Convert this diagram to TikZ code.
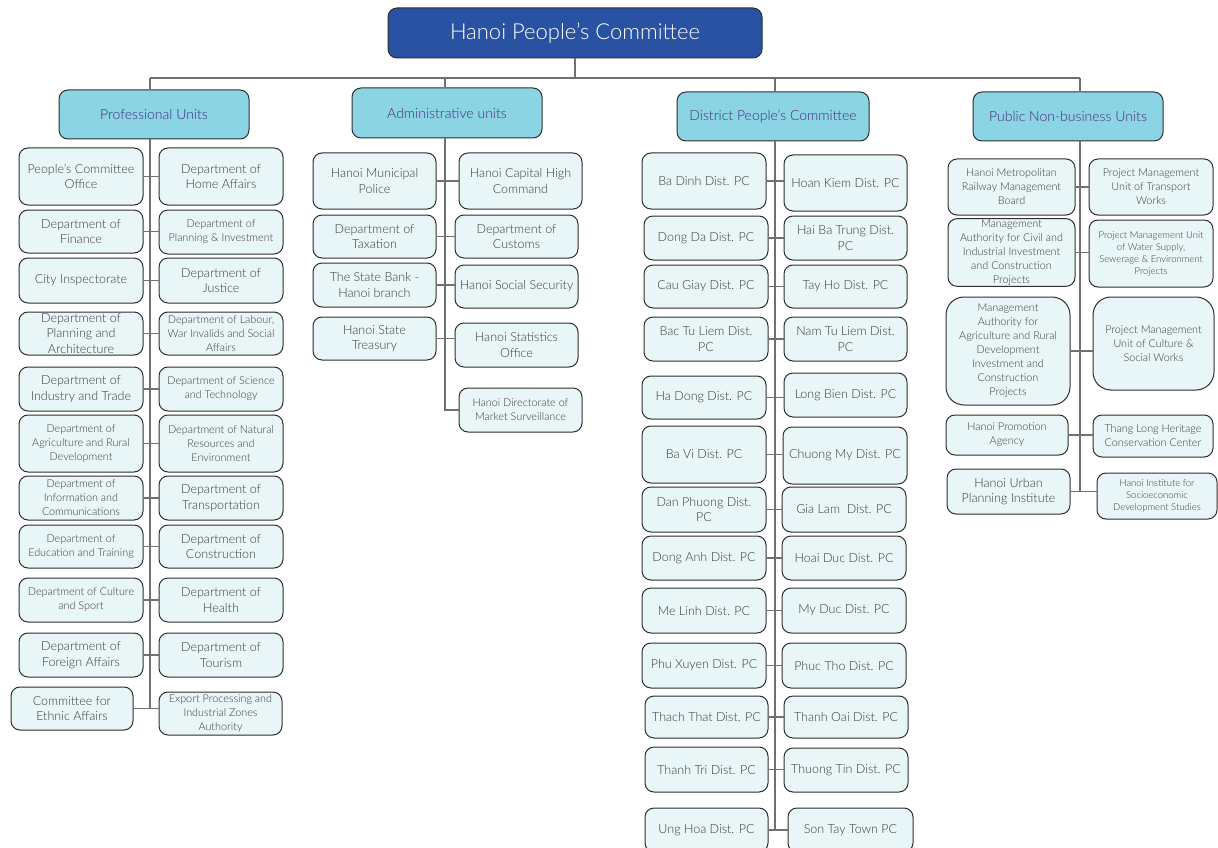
\documentclass[tikz,border=0pt]{standalone}
\usepackage{fontspec}
\setmainfont{Lato}[UprightFont=* Light]

\definecolor{boxfill}{HTML}{E8F6F8}
\definecolor{boxline}{HTML}{2E2E2E}
\definecolor{unittext}{HTML}{3A3A3A}
\definecolor{headfill}{HTML}{8AD4E4}
\definecolor{headtext}{HTML}{4B2A7B}
\definecolor{chairfill}{HTML}{2A52A2}
\definecolor{linkgray}{HTML}{707070}

\tikzset{
  unit/.style={draw=boxline, fill=boxfill, rounded corners=9pt, line width=1pt,
    text=unittext, align=center, inner sep=1pt, font=\fontsize{12.5}{15.5}\selectfont},
  small/.style={font=\fontsize{10.8}{14}\selectfont},
  tiny/.style={font=\fontsize{9.5}{12}\selectfont},
  head/.style={fill=headfill, text=headtext, font=\fontsize{14}{16}\selectfont},
  chair/.style={fill=chairfill, text=white, font=\fontsize{22}{26}\selectfont},
  link/.style={draw=linkgray, line width=1.6pt},
}

% box from its corners: name, x1, y1, x2, y2, text
\newcommand{\orgbox}[7][]{%
  \node[unit, #1, minimum width={#5-#3}, minimum height={#6-#4}]
    (#2) at ({(#3+#5)/2},{(#4+#6)/2}) {#7};}

\begin{document}
\begin{tikzpicture}[x=1pt, y=-1pt]
\useasboundingbox (0,0) rectangle (1218,848);

% spines of the four columns
\coordinate (bus) at (0,78);
\coordinate (psp) at (150,0);
\coordinate (asp) at (445,0);
\coordinate (dsp) at (775,0);
\coordinate (nsp) at (1080,0);

\orgbox[chair]{hpc}{388}{8}{762}{58}{Hanoi People's Committee}

\orgbox[head]{phead}{59}{90}{249}{139}{Professional Units}
\orgbox[head]{ahead}{352}{88}{542}{138}{Administrative units}
\orgbox[head]{dhead}{677}{92}{869}{141}{District People's Committee}
\orgbox[head]{nhead}{973}{92}{1163}{141}{Public Non-business Units}

% professional units
\orgbox{pl1}{19}{148}{143}{205}{People's Committee\\Office}
\orgbox{pr1}{159}{148}{283}{205}{Department of\\Home Affairs}
\orgbox{pl2}{19}{210}{143}{253}{Department of\\Finance}
\orgbox[small]{pr2}{159}{210}{283}{254}{Department of\\Planning \& Investment}
\orgbox{pl3}{19}{258}{143}{303}{City Inspectorate}
\orgbox{pr3}{159}{258}{283}{303}{Department of\\Justice}
\orgbox{pl4}{19}{312}{143}{355}{Department of\\Planning and\\Architecture}
\orgbox[small]{pr4}{159}{312}{283}{355}{Department of Labour,\\War Invalids and Social\\Affairs}
\orgbox{pl5}{19}{367}{143}{411}{Department of\\Industry and Trade}
\orgbox[small]{pr5}{159}{367}{283}{411}{Department of Science\\and Technology}
\orgbox[small]{pl6}{19}{415}{143}{472}{Department of\\Agriculture and Rural\\Development}
\orgbox[small]{pr6}{159}{415}{283}{472}{Department of Natural\\Resources and\\Environment}
\orgbox[small]{pl7}{19}{476}{143}{520}{Department of\\Information and\\Communications}
\orgbox{pr7}{159}{476}{283}{520}{Department of\\Transportation}
\orgbox[small]{pl8}{19}{525}{143}{568}{Department of\\Education and Training}
\orgbox{pr8}{159}{525}{283}{568}{Department of\\Construction}
\orgbox[small]{pl9}{19}{578}{143}{622}{Department of Culture\\and Sport}
\orgbox{pr9}{159}{578}{283}{622}{Department of\\Health}
\orgbox{pl10}{19}{633}{143}{677}{Department of\\Foreign Affairs}
\orgbox{pr10}{159}{633}{283}{677}{Department of\\Tourism}
\orgbox{pl11}{11}{687}{133}{730}{Committee for\\Ethnic Affairs}
\orgbox[small]{pr11}{159}{692}{282}{735}{Export Processing and\\Industrial Zones\\Authority}

% administrative units
\orgbox{al1}{313}{153}{436}{209}{Hanoi Municipal\\Police}
\orgbox{ar1}{459}{153}{582}{209}{Hanoi Capital High\\Command}
\orgbox{al2}{313}{215}{436}{258}{Department of\\Taxation}
\orgbox{ar2}{455}{215}{578}{258}{Department of\\Customs}
\orgbox{al3}{313}{263}{436}{307}{The State Bank -\\Hanoi branch}
\orgbox{ar3}{455}{265}{578}{308}{Hanoi Social Security}
\orgbox{al4}{313}{317}{436}{360}{Hanoi State\\Treasury}
\orgbox{ar4}{455}{323}{578}{367}{Hanoi Statistics\\Office}
\orgbox[small]{ar5}{459}{388}{582}{432}{Hanoi Directorate of\\Market Surveillance}

% district people's committees
\orgbox{dl1}{642}{153}{766}{209}{Ba Dinh Dist. PC}
\orgbox{dr1}{784}{155}{907}{211}{Hoan Kiem Dist. PC}
\orgbox{dl2}{644}{216}{768}{260}{Dong Da Dist. PC}
\orgbox{dr2}{784}{216}{907}{260}{Hai Ba Trung Dist.\\PC}
\orgbox{dl3}{644}{265}{768}{308}{Cau Giay Dist. PC}
\orgbox{dr3}{784}{265}{907}{308}{Tay Ho Dist. PC}
\orgbox{dl4}{644}{317}{768}{361}{Bac Tu Liem Dist.\\PC}
\orgbox{dr4}{784}{317}{907}{361}{Nam Tu Liem Dist.\\PC}
\orgbox{dl5}{642}{376}{766}{419}{Ha Dong Dist. PC}
\orgbox{dr5}{784}{373}{907}{417}{Long Bien Dist. PC}
\orgbox{dl6}{642}{426}{766}{483}{Ba Vi Dist. PC}
\orgbox{dr6}{783}{427}{907}{484}{Chuong My Dist. PC}
\orgbox{dl7}{642}{487}{766}{532}{Dan Phuong Dist.\\PC}
\orgbox{dr7}{782}{487}{906}{532}{Gia Lam~ Dist. PC}
\orgbox{dl8}{642}{536}{766}{580}{Dong Anh Dist. PC}
\orgbox{dr8}{782}{536}{906}{580}{Hoai Duc Dist. PC}
\orgbox{dl9}{642}{588}{766}{633}{Me Linh Dist. PC}
\orgbox{dr9}{782}{588}{906}{633}{My Duc Dist. PC}
\orgbox{dl10}{642}{643}{766}{688}{Phu Xuyen Dist. PC}
\orgbox{dr10}{782}{643}{906}{688}{Phuc Tho Dist. PC}
\orgbox{dl11}{645}{696}{768}{738}{Thach That Dist. PC}
\orgbox{dr11}{784}{696}{908}{738}{Thanh Oai Dist. PC}
\orgbox{dl12}{645}{747}{768}{792}{Thanh Tri Dist. PC}
\orgbox{dr12}{784}{748}{908}{792}{Thuong Tin Dist. PC}
\orgbox{dl13}{645}{808}{768}{852}{Ung Hoa Dist. PC}
\orgbox{dr13}{788}{808}{913}{852}{Son Tay Town PC}

% public non-business units
\orgbox[small]{nl1}{948}{159}{1075}{215}{Hanoi Metropolitan\\Railway Management\\Board}
\orgbox[small]{nr1}{1089}{159}{1213}{215}{Project Management\\Unit of Transport\\Works}
\orgbox[small]{nl2}{948}{220}{1075}{285}{Management\\Authority for Civil and\\Industrial Investment\\and Construction\\Projects}
\orgbox[tiny]{nr2}{1089}{220}{1213}{287}{Project Management Unit\\of Water Supply,\\Sewerage \& Environment\\Projects}
\orgbox[small, rounded corners=18pt]{nl3}{946}{297}{1070}{405}{Management\\Authority for\\Agriculture and Rural\\Development\\Investment and\\Construction\\Projects}
\orgbox[small, rounded corners=18pt]{nr3}{1093}{297}{1214}{390}{Project Management\\Unit of Culture \&\\Social Works}
\orgbox[small]{nl4}{946}{415}{1068}{455}{Hanoi Promotion\\Agency}
\orgbox[small]{nr4}{1093}{415}{1213}{457}{Thang Long Heritage\\Conservation Center}
\orgbox{nl5}{947}{469}{1070}{514}{Hanoi Urban\\Planning Institute}
\orgbox[tiny]{nr5}{1097}{473}{1217}{519}{Hanoi Institute for\\Socioeconomic\\Development Studies}

% top bus and drops to the headers
\draw[link] (hpc.south) -- (hpc.south |- bus);
\draw[link, line width=1.3pt] (bus -| psp) -- (bus -| nsp);
\draw[link] (bus -| psp) -- (phead.north -| psp);
\draw[link] (bus -| asp) -- (ahead.north -| asp);
\draw[link] (bus -| dsp) -- (dhead.north -| dsp);
\draw[link] (bus -| nsp) -- (nhead.north -| nsp);

% column spines
\draw[link] (phead.south -| psp) -- (pl11.east -| psp);
\draw[link] (ahead.south -| asp) -- (ar5.west -| asp) -- (ar5.west);
\draw[link] (dhead.south -| dsp) -- (dl13.east -| dsp);
\draw[link] (nhead.south -| nsp) -- (nl5.east -| nsp);

% rows: left box to right box across the spine
\foreach \l/\r in {pl1/pr1,pl2/pr2,pl3/pr3,pl4/pr4,pl5/pr5,pl6/pr6,pl7/pr7,pl8/pr8,pl9/pr9,pl10/pr10,pl11/pr11,
    al1/ar1,al2/ar2,al3/ar3,al4/ar4,
    dl1/dr1,dl2/dr2,dl3/dr3,dl4/dr4,dl5/dr5,dl6/dr6,dl7/dr7,dl8/dr8,dl9/dr9,dl10/dr10,dl11/dr11,dl12/dr12,dl13/dr13,
    nl1/nr1,nl2/nr2,nl3/nr3,nl4/nr4,nl5/nr5}
  \draw[link] (\l.east) -- (\l.east -| \r.west);
\end{tikzpicture}
\end{document}
